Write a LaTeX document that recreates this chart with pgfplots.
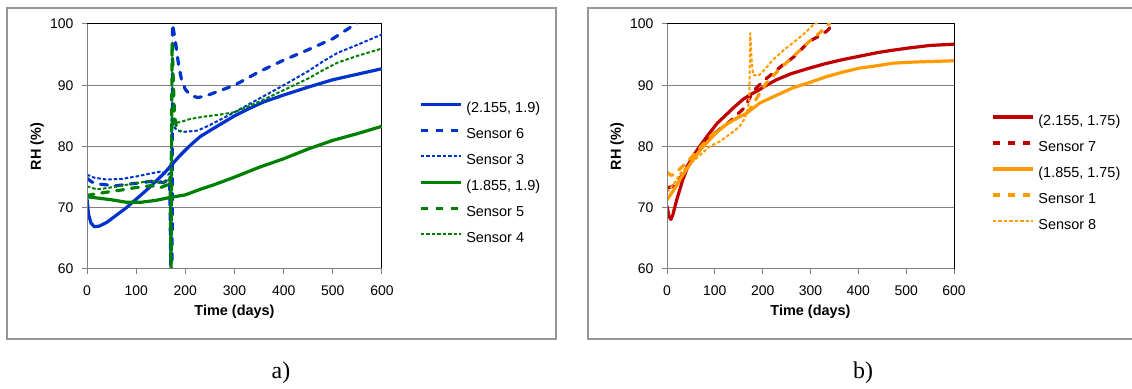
\documentclass[border=0pt]{standalone}
\usepackage{pgfplots}
\pgfplotsset{compat=1.18}
\usepackage{fontspec}
\setmainfont{Liberation Sans}
\newfontfamily\seriffont{Liberation Serif}
\definecolor{cblue}{RGB}{0,51,204}
\definecolor{cgreen}{RGB}{0,128,0}
\definecolor{cred}{RGB}{192,0,0}
\definecolor{corange}{RGB}{255,155,0}
\definecolor{framegray}{RGB}{150,150,150}

\pgfplotstableread{
x y
0 71.5
3 69.0
8 67.5
15 66.9
25 67.0
40 67.6
60 68.8
80 70.0
100 71.4
120 72.8
140 74.3
160 75.9
172 77.0
190 78.6
210 80.2
230 81.6
250 82.6
275 83.8
300 85.0
330 86.2
360 87.3
400 88.4
450 89.7
500 90.9
550 91.8
600 92.7
}\blueSolid

\pgfplotstableread{
x y
0 74.8
10 74.2
30 73.8
60 73.6
90 73.9
120 74.2
140 74.4
155 74.1
168 74.7
171 58
173 58
174 100
177 98.5
181 96.5
186 93.5
192 91
200 89.3
212 88.3
225 88
240 88.2
260 88.8
300 90.0
350 92.2
400 94.1
450 95.8
500 97.6
550 100.2
}\sensorSix

\pgfplotstableread{
x y
0 75.4
15 74.9
40 74.6
70 74.7
100 75.1
130 75.6
150 75.9
165 75.4
170 75.8
172 84.5
176 83.2
185 82.6
200 82.4
225 82.6
250 83.5
300 85.6
350 87.8
400 90.0
450 92.3
480 93.9
510 95.3
550 96.6
600 98.3
}\sensorThree

\pgfplotstableread{
x y
0 71.8
20 71.6
50 71.3
80 70.9
110 70.9
140 71.2
170 71.7
200 72.1
230 73.0
260 73.8
300 75.0
350 76.6
400 78.0
450 79.6
500 81.0
550 82.1
600 83.3
}\greenSolid

\pgfplotstableread{
x y
0 72.0
20 72.3
45 72.6
70 72.9
100 73.3
130 73.6
150 73.3
165 73.8
169 75
171 58
173 97
175 92
178 85
183 82.6
190 82.5
}\sensorFive

\pgfplotstableread{
x y
0 73.5
20 73.0
40 73.2
70 73.6
100 74.0
130 74.4
150 74.0
166 74.5
170 75
172 85
176 83.8
190 84.0
210 84.5
240 84.9
270 85.2
300 85.6
350 87.3
400 89.2
450 91.1
483 92.6
510 93.7
550 94.8
600 96.0
}\sensorFour

\pgfplotstableread{
x y
0 70.3
4 68.6
8 68.1
12 68.8
20 71.2
33 74.6
45 77.0
54 78.4
70 80.2
89 82.2
105 83.8
124 85.2
140 86.4
159 87.7
175 88.5
194 89.3
210 90.1
229 90.9
260 91.9
298 92.8
330 93.5
368 94.2
400 94.7
438 95.3
470 95.7
507 96.1
550 96.5
600 96.7
}\redSolid

\pgfplotstableread{
x y
0 73.2
15 73.6
25 74.5
40 76.5
54 78.2
70 79.8
90 81.5
110 82.8
130 84.0
152 85.6
160 86.2
170 87.5
180 89.0
200 90.6
222 92.0
245 93.5
263 94.5
280 95.8
298 97.2
320 98.1
335 98.9
350 100.2
}\sensorSeven

\pgfplotstableread{
x y
0 71.3
15 73.0
30 75.0
54 77.8
70 79.5
89 81.1
105 82.4
124 83.6
145 84.6
166 85.4
194 87.1
230 88.4
264 89.6
300 90.5
333 91.4
370 92.2
403 92.8
440 93.2
472 93.6
520 93.8
600 94.0
}\orangeSolid

\pgfplotstableread{
x y
0 75.8
8 75.3
15 75.4
25 76.2
40 77.3
60 79.0
82 81.0
100 82.3
124 83.6
150 84.8
173 86.0
190 88.2
208 90.4
230 92.2
250 93.7
275 95.5
298 97.2
320 98.6
340 100.1
}\sensorOne

\pgfplotstableread{
x y
0 72.5
15 74
30 75.8
45 76.8
60 78
75 79
89 80
110 80.8
124 81.6
140 82.5
152 83.3
162 84.5
169 86
172 88
174 98.5
177 94
180 91.7
190 91.5
200 92.2
222 94.2
245 95.8
263 96.9
285 98.3
305 99.8
320 100.5
}\sensorEight

\pgfplotsset{
  rhstyle/.style={
    scale only axis, height=245bp,
    xmin=0, xmax=600, ymin=60, ymax=100,
    xtick={0,100,...,600}, ytick={60,70,...,100},
    tick pos=left, tick align=outside, major tick length=5bp,
    tick style={gray, line width=1bp},
    ymajorgrids, grid style={gray, line width=1bp},
    axis line style={black, line width=1bp},
    ticklabel style={font=\fontsize{14}{16}\selectfont},
    xticklabel style={yshift=-8bp},
    yticklabel style={xshift=-5bp},
    /pgf/number format/assume math mode=true,
    label style={font=\bfseries\fontsize{14.5}{16}\selectfont},
    xlabel={Time (days)}, ylabel={RH (\%)},
    legend style={draw=none, fill=none, inner sep=0pt, anchor=north west,
      font=\fontsize{14.5}{16}\selectfont, row sep=13bp, column sep=4bp,
      nodes={inner sep=0pt, text height=10.5bp, text depth=2.5bp}},
    legend cell align=left,
    legend image code/.code={\draw[##1, line cap=butt] (0bp,4.5bp) -- (40bp,4.5bp);},
    after end axis/.code={\draw[gray, line width=1bp] (rel axis cs:0,1) -- (rel axis cs:0,0) -- (rel axis cs:1,0);},
  },
  solidl/.style={line width=3.2bp, line join=round},
  longd/.style={line width=3.2bp, line join=round, line cap=round, dash pattern=on 7bp off 8bp},
  shortd/.style={line width=2bp, line join=round, dash pattern=on 3.5bp off 2bp},
}

\begin{document}
\begin{tikzpicture}
\useasboundingbox (0,0) rectangle (1132bp,389bp);
\draw[framegray, line width=1.2bp] (7bp,50bp) rectangle (556bp,381bp);
\draw[framegray, line width=1.2bp] (1140bp,381bp) -- (588bp,381bp) -- (588bp,50bp) -- (1140bp,50bp);
\node[font=\seriffont\fontsize{24}{28}\selectfont] at (281bp,16bp) {a)};
\node[font=\seriffont\fontsize{24}{28}\selectfont] at (863bp,16bp) {b)};

\begin{axis}[rhstyle, width=295bp, at={(87bp,120bp)}, anchor=south west,
  ylabel style={at={(axis description cs:-0.169,0.5)}, anchor=center},
  xlabel style={at={(axis description cs:0.5,-0.175)}, anchor=center},
  legend style={at={(1.125,0.682)}}]
\addplot[cblue, solidl] table {\blueSolid};
\addlegendentry{(2.155, 1.9)}
\addplot[cblue, longd] table {\sensorSix};
\addlegendentry{Sensor 6}
\addplot[cblue, shortd] table {\sensorThree};
\addlegendentry{Sensor 3}
\addplot[cgreen, solidl] table {\greenSolid};
\addlegendentry{(1.855, 1.9)}
\addplot[cgreen, longd] table {\sensorFive};
\addlegendentry{Sensor 5}
\addplot[cgreen, shortd] table {\sensorFour};
\addlegendentry{Sensor 4}
\end{axis}

\begin{axis}[rhstyle, width=287bp, at={(667bp,120bp)}, anchor=south west,
  ylabel style={at={(axis description cs:-0.174,0.5)}, anchor=center},
  xlabel style={at={(axis description cs:0.5,-0.175)}, anchor=center},
  legend style={at={(1.129,0.629)}}]
\addplot[cred, solidl] table {\redSolid};
\addlegendentry{(2.155, 1.75)}
\addplot[cred, longd] table {\sensorSeven};
\addlegendentry{Sensor 7}
\addplot[corange, solidl] table {\orangeSolid};
\addlegendentry{(1.855, 1.75)}
\addplot[corange, longd] table {\sensorOne};
\addlegendentry{Sensor 1}
\addplot[corange, shortd] table {\sensorEight};
\addlegendentry{Sensor 8}
\end{axis}
\end{tikzpicture}
\end{document}
